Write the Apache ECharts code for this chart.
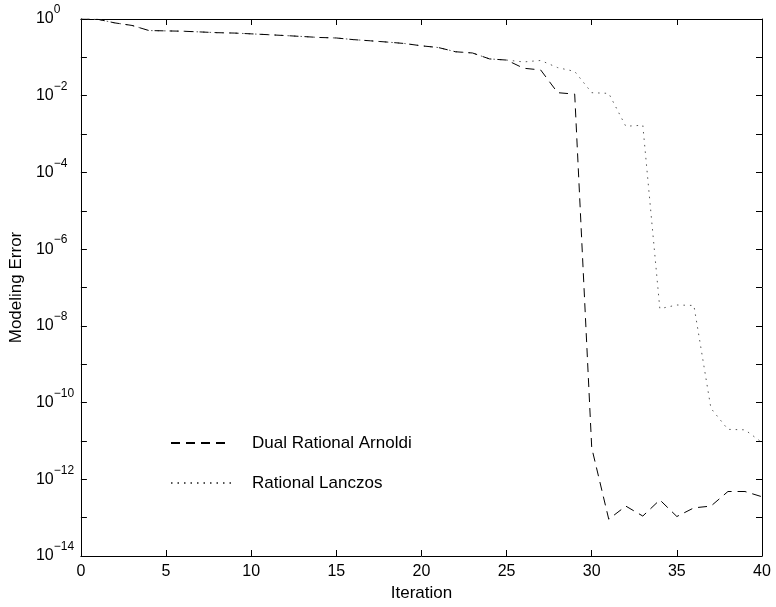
<!DOCTYPE html>
<html>
<head>
<meta charset="utf-8">
<script src="https://cdn.jsdelivr.net/npm/echarts@6/dist/echarts.min.js"></script>
<style>
html,body{margin:0;padding:0;background:#fff;}
#chart{width:776px;height:607px;}
</style>
</head>
<body>
<div id="chart"></div>
<script>
var iterations = [0,1,2,3,4,5,6,7,8,9,10,11,12,13,14,15,16,17,18,19,20,21,22,23,24,25,26,27,28,29,30,31,32,33,34,35,36,37,38,39,40];
var dualRationalArnoldi = [1,0.98,0.79,0.68,0.50,0.49,0.48,0.46,0.44,0.43,0.41,0.39,0.37,0.35,0.33,0.32,0.29,0.27,0.25,0.23,0.20,0.18,0.14,0.13,0.091,0.085,
  0.052,0.047,0.012,0.011,6.6e-12,9.1e-14,2.0e-13,1.1e-13,2.9e-13,1.07e-13,1.8e-13,2.0e-13,4.8e-13,4.8e-13,3.5e-13];
var rationalLanczos = [1,0.98,0.79,0.68,0.50,0.49,0.48,0.46,0.44,0.43,0.41,0.39,0.37,0.35,0.33,0.32,0.29,0.27,0.25,0.23,0.20,0.18,0.14,0.13,0.091,0.085,
  0.076,0.083,0.054,0.043,0.012,0.0115,0.0016,0.0017,2.8e-8,3.5e-8,3.4e-8,7.1e-11,2.0e-11,1.95e-11,9.1e-12];
var seriesNames = ['Dual Rational Arnoldi','Rational Lanczos'];
var xTicks = {min:0, max:40, interval:5};
var yExpRange = {min:-14, max:0};

function pairs(ys){ return iterations.map(function(x,i){ return [x, ys[i]]; }); }

var chart = echarts.init(document.getElementById('chart'), null, {renderer:'canvas'});
var fontFam = 'Liberation Sans, Arial, Helvetica, sans-serif';
var axisLineStyle = {color:'#000', width:1};

function yFmt(v){
  var e = Math.round(Math.log10(v));
  if (e % 2 !== 0) return '';
  var s = e === 0 ? '0' : '\u2212' + (-e);
  return '{b|10}{s|' + s + '}';
}

chart.setOption({
  backgroundColor:'#fff',
  animation:false,
  grid:{left:80, right:14, top:19, bottom:51, containLabel:false},
  legend:{
    orient:'vertical', left:165, top:428,
    itemWidth:60, itemHeight:14, itemGap:20,
    itemStyle:{opacity:0},
    textStyle:{fontFamily:fontFam, fontSize:17, color:'#000', lineHeight:20, padding:[0,0,0,16]},
    data:seriesNames
  },
  xAxis:[{
    type:'value', min:xTicks.min, max:xTicks.max, interval:xTicks.interval,
    name:'Iteration', nameLocation:'middle', nameGap:28,
    nameTextStyle:{fontFamily:fontFam, fontSize:17, color:'#000'},
    axisLine:{show:true, onZero:false, lineStyle:axisLineStyle},
    axisTick:{show:true, inside:true, length:6, lineStyle:axisLineStyle},
    axisLabel:{fontFamily:fontFam, fontSize:16, color:'#000', margin:8},
    splitLine:{show:false}
  },{
    type:'value', position:'top', min:xTicks.min, max:xTicks.max, interval:xTicks.interval,
    axisLine:{show:true, onZero:false, lineStyle:axisLineStyle},
    axisTick:{show:true, inside:true, length:6, lineStyle:axisLineStyle},
    axisLabel:{show:false}, splitLine:{show:false}
  }],
  yAxis:[{
    type:'log', logBase:10, min:Math.pow(10,yExpRange.min), max:Math.pow(10,yExpRange.max), interval:1,
    name:'Modeling Error', nameLocation:'middle', nameGap:42,
    nameTextStyle:{fontFamily:fontFam, fontSize:17, color:'#000'},
    axisLine:{show:true, onZero:false, lineStyle:axisLineStyle},
    axisTick:{show:true, inside:true, length:6, lineStyle:axisLineStyle},
    minorTick:{show:false},
    axisLabel:{
      formatter:yFmt, align:'left', margin:45, color:'#000',
      rich:{
        b:{fontFamily:fontFam, fontSize:16, lineHeight:30, color:'#000'},
        s:{fontFamily:fontFam, fontSize:12, lineHeight:12, verticalAlign:'top', color:'#000'}
      }
    },
    splitLine:{show:false}
  },{
    type:'log', logBase:10, position:'right', min:Math.pow(10,yExpRange.min), max:Math.pow(10,yExpRange.max), interval:1,
    axisLine:{show:true, onZero:false, lineStyle:axisLineStyle},
    axisTick:{show:true, inside:true, length:6, lineStyle:axisLineStyle},
    axisLabel:{show:false}, splitLine:{show:false}
  }],
  series:[{
    name:seriesNames[0], type:'line', data:pairs(dualRationalArnoldi),
    symbol:'none', showSymbol:false, z:3,
    lineStyle:{color:'#000', width:1, type:[9,6]},
    itemStyle:{color:'#000'}
  },{
    name:seriesNames[1], type:'line', data:pairs(rationalLanczos),
    symbol:'none', showSymbol:false, z:2,
    lineStyle:{color:'#555', width:1, type:[1.5,5]},
    itemStyle:{color:'#555'}
  }]
});
</script>
</body>
</html>
